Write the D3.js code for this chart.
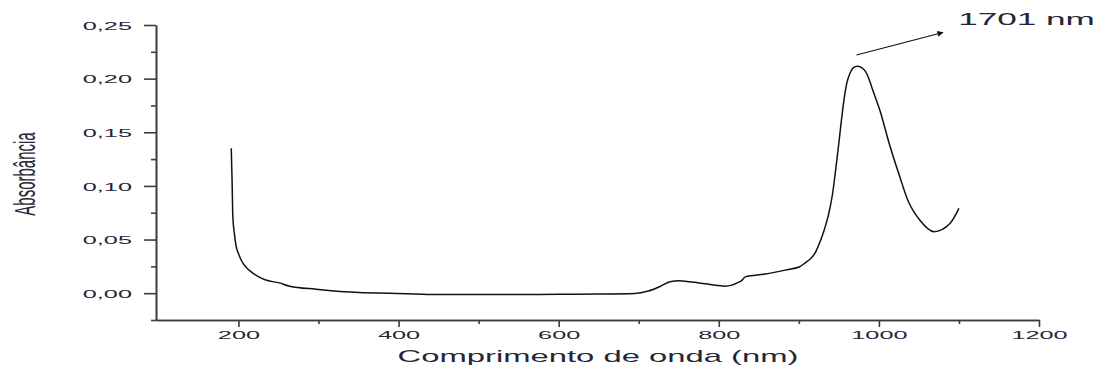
<!DOCTYPE html>
<meta charset="utf-8">
<style>
body { margin: 0; background: #fff; }
text { font-family: "Liberation Sans", Arial, sans-serif; fill: #262636; }
.axis path, .axis line { stroke: #3c3c3c; stroke-width: 1.6; }
.curve { fill: none; stroke: #111; stroke-width: 1.5; }
</style>
<svg width="1102" height="370"></svg>
<script src="https://d3js.org/d3.v7.min.js"></script>
<script>
// spectrum
var wavelength = [191, 192, 193, 195, 197, 200, 204, 209, 218, 226, 235, 251, 264, 297, 351, 389,
  443, 500, 550, 601, 650, 695, 712, 726, 739, 751, 760, 776, 796, 808, 816, 823, 829, 833, 858,
  883, 901, 908, 915, 920, 923, 931, 937, 942, 946, 950, 953, 957, 960, 964, 968, 973, 978,
  983, 988, 992, 1001, 1014, 1026, 1036, 1051, 1069, 1089, 1100];
var absorbance = [0.135, 0.106, 0.071, 0.055, 0.044, 0.037, 0.030, 0.0246, 0.0187, 0.015, 0.012,
  0.0096, 0.0065, 0.0037, 0.0006, 0.0, -0.0012, -0.0013, -0.0013, -0.001, -0.0008, -0.0003, 0.002,
  0.006, 0.0106, 0.0115, 0.011, 0.0096, 0.0075, 0.0065, 0.0075, 0.0096, 0.012, 0.0152, 0.0178,
  0.0215, 0.0246, 0.0283, 0.0324, 0.037, 0.0417, 0.0573, 0.073, 0.092, 0.115, 0.14, 0.16,
  0.1835, 0.196, 0.2053, 0.210, 0.2115, 0.2105, 0.207, 0.199, 0.19, 0.171, 0.1367, 0.1087,
  0.0869, 0.0682, 0.0573, 0.0651, 0.079];

var xTicks = [200, 400, 600, 800, 1000, 1200];
var xMinor = [300, 500, 700, 900, 1100];
var yTicks = [0, 0.05, 0.10, 0.15, 0.20, 0.25];
var yMinor = [-0.025, 0.025, 0.075, 0.125, 0.175, 0.225];

var peakLabel = "1701 nm";
var arrowFrom = [972, 0.222], arrowTo = [1080, 0.243], labelAt = [1099, 0.25];

var svg = d3.select("svg");

var x = d3.scaleLinear().domain([97, 1200]).range([156, 1039]);
var y = d3.scaleLinear().domain([-0.025, 0.25]).range([320, 25]);

var stretch = 2.2; // the glyphs in the original are drawn wide

/* y axis */
var gy = svg.append("g")
    .attr("class", "axis")
    .attr("transform", "translate(" + x.range()[0] + ",0)");
gy.call(d3.axisLeft(y).tickValues(yMinor).tickSize(5).tickSizeOuter(0).tickFormat(""));
var gy2 = svg.append("g")
    .attr("class", "axis")
    .attr("transform", "translate(" + x.range()[0] + ",0)")
    .call(d3.axisLeft(y).tickValues(yTicks).tickSize(12).tickSizeOuter(0)
      .tickFormat(function(d) { return d3.format(".2f")(d).replace(".", ","); }));
gy2.selectAll("text")
    .attr("x", 0).attr("dy", null)
    .attr("dominant-baseline", "central")
    .attr("text-anchor", "end")
    .attr("transform", "translate(-24,0) scale(" + stretch + ",1)")
    .style("font-size", "11.5px");

/* x axis */
var gx = svg.append("g")
    .attr("class", "axis")
    .attr("transform", "translate(0," + y.range()[0] + ")");
gx.call(d3.axisBottom(x).tickValues(xMinor).tickSize(4).tickSizeOuter(0).tickFormat(""));
var gx2 = svg.append("g")
    .attr("class", "axis")
    .attr("transform", "translate(0," + y.range()[0] + ")")
    .call(d3.axisBottom(x).tickValues(xTicks).tickSize(7).tickSizeOuter(0).tickFormat(d3.format("d")));
gx2.selectAll("text")
    .attr("y", 0).attr("dy", null)
    .attr("transform", "translate(0,18.5) scale(" + stretch + ",1)")
    .style("font-size", "11.5px");

/* titles */
svg.append("text")
    .attr("text-anchor", "middle")
    .attr("transform", "translate(598,361.5) scale(2.05,1)")
    .style("font-size", "16px")
    .text("Comprimento de onda (nm)");

svg.append("text")
    .attr("text-anchor", "middle")
    .attr("transform", "translate(35,174) scale(2,1) rotate(-90)")
    .style("font-size", "15px")
    .text("Absorbância");

/* spectrum */
var pts = wavelength.map(function(w, i) { return [w, absorbance[i]]; });
svg.append("path")
    .datum(pts)
    .attr("class", "curve")
    .attr("d", d3.line()
      .curve(d3.curveMonotoneX)
      .x(function(d) { return x(d[0]); })
      .y(function(d) { return y(d[1]); }));

/* peak annotation */
svg.append("defs").append("marker")
    .attr("id", "head")
    .attr("viewBox", "0 0 10 10")
    .attr("refX", 9).attr("refY", 5)
    .attr("markerWidth", 9).attr("markerHeight", 6)
    .attr("markerUnits", "userSpaceOnUse")
    .attr("orient", "auto")
  .append("path")
    .attr("d", "M0,0 L10,5 L0,10 z")
    .attr("fill", "#111");

svg.append("line")
    .attr("x1", x(arrowFrom[0])).attr("y1", y(arrowFrom[1]))
    .attr("x2", x(arrowTo[0])).attr("y2", y(arrowTo[1]))
    .attr("stroke", "#111").attr("stroke-width", 1.2)
    .attr("marker-end", "url(#head)");

svg.append("text")
    .attr("transform", "translate(" + x(labelAt[0]) + "," + y(labelAt[1]) + ") scale(2.13,1)")
    .style("font-size", "16.5px")
    .text(peakLabel);
</script>
